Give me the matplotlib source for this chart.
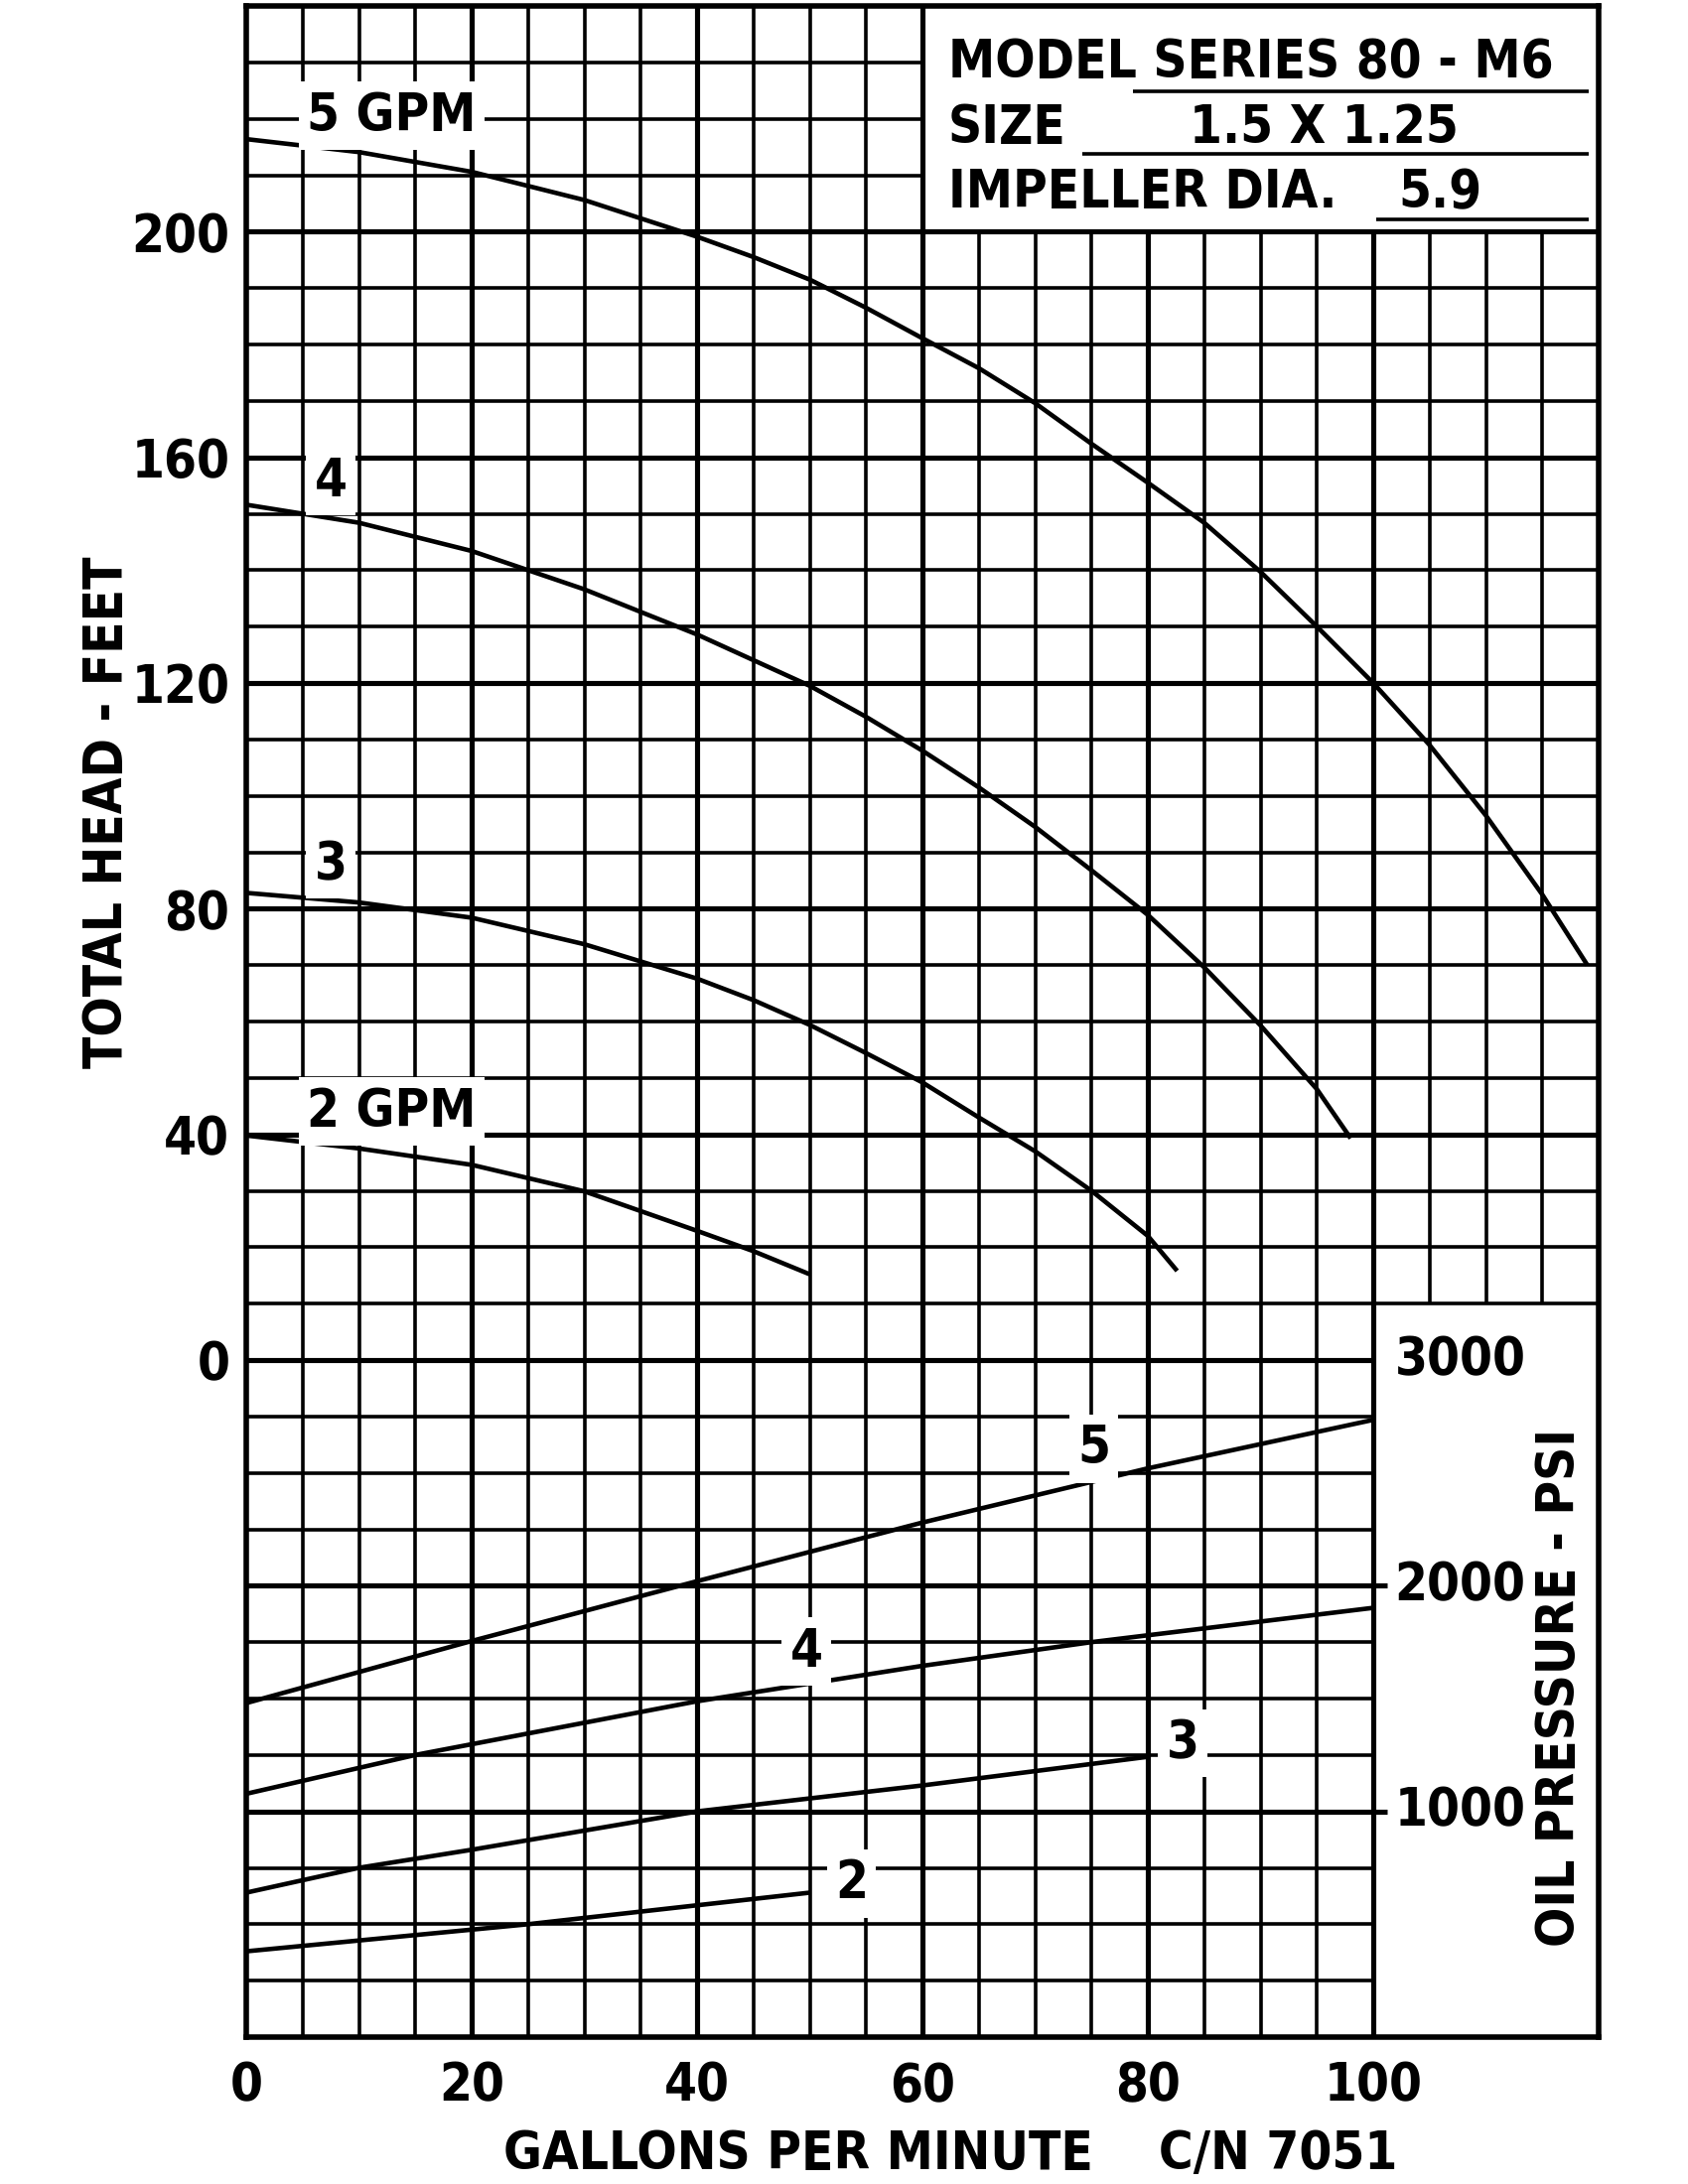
import numpy as np
import matplotlib
matplotlib.use("Agg")
import matplotlib.pyplot as plt
from matplotlib import font_manager

# condensed bold face like the printed chart
names = {f.name for f in font_manager.fontManager.ttflist}
narrow = [n for n in ['Liberation Sans Narrow', 'Arial Narrow'] if n in names]
plt.rcParams['font.family'] = narrow + ['DejaVu Sans']
plt.rcParams['font.stretch'] = 'condensed'
plt.rcParams['font.weight'] = 'bold'

# head curves (gpm vs total head, feet)
gpm_5 = [0, 10, 20, 30, 40, 45, 50, 55, 60, 65, 70, 75, 80, 85, 90, 95, 100, 105, 110, 115, 119]
head_5 = [216.4, 214.1, 210.6, 205.6, 199.1, 195.5, 191.5, 186.5, 181.1, 175.8, 169.6, 162.4,
          155.5, 148.4, 139.7, 130, 120, 109, 96.5, 82.5, 70]
gpm_4 = [0, 10, 20, 30, 40, 50, 55, 60, 65, 70, 75, 80, 85, 90, 95, 98]
head_4 = [151.6, 148.4, 143.4, 136.6, 128.6, 119.5, 114, 108, 101.5, 94.5, 86.8, 78.9, 69.6, 59.3, 48, 39.3]
gpm_3 = [0, 10, 20, 30, 40, 45, 50, 55, 60, 65, 70, 75, 80, 82.6]
head_3 = [82.8, 81.1, 78.4, 73.7, 67.6, 63.8, 59.4, 54.4, 49.2, 43, 37, 30, 22, 15.8]
gpm_2 = [0, 10, 20, 30, 40, 45, 50]
head_2 = [39.8, 37.5, 34.6, 29.9, 22.9, 19.3, 15.2]

# oil pressure lines (gpm vs psi)
pgpm_5 = [0, 20, 40, 60, 80, 100]
psi_5 = [1480, 1755, 2020, 2280, 2520, 2735]
pgpm_4 = [0, 15, 40, 60, 75, 100]
psi_4 = [1078, 1250, 1488, 1645, 1750, 1902]
pgpm_3 = [0, 10, 20, 40, 60, 80]
psi_3 = [640, 750, 830, 1000, 1115, 1242]
pgpm_2 = [0, 25, 50]
psi_2 = [380, 500, 640]

x_ticks = [0, 20, 40, 60, 80, 100]
head_ticks = [0, 40, 80, 120, 160, 200]
psi_ticks = [1000, 2000, 3000]

FS = 38
thin, thick, curve_w = 2.6, 3.7, 3.3

fig = plt.figure(figsize=(17, 22), dpi=100)
ax = fig.add_axes([248/1700, 1 - 2052/2200, (1610-248)/1700, (2052-6)/2200])
ax.set_xlim(0, 120)
ax.set_ylim(-120, 240)

# grid, with the two white boxes left open
for x in np.arange(5, 120, 5):
    lw = thick if x % 20 == 0 else thin
    if x <= 60:
        lo, hi = -120, 240
    elif x <= 100:
        lo, hi = -120, 200
    else:
        lo, hi = 10, 200
    ax.vlines(x, lo, hi, colors='black', lw=lw, zorder=1)
for y in np.arange(-110, 240, 10):
    lw = thick if y % 40 == 0 else thin
    if y > 200:
        lo, hi = 0, 60
    elif y >= 10:
        lo, hi = 0, 120
    else:
        lo, hi = 0, 100
    ax.hlines(y, lo, hi, colors='black', lw=lw, zorder=1)
for p in psi_ticks[:2]:
    ax.hlines(p / 25 - 120, 100, 101.2, colors='black', lw=thick, zorder=1)

for g, h in [(gpm_5, head_5), (gpm_4, head_4), (gpm_3, head_3), (gpm_2, head_2)]:
    ax.plot(g, h, color='black', lw=curve_w, zorder=2, solid_capstyle='butt')

box = dict(facecolor='white', edgecolor='none', pad=6)
ax.text(12.9, 220.5, '5 GPM', fontsize=FS, ha='center', va='center', bbox=box, zorder=3)
ax.text(7.5, 155.8, '4', fontsize=FS, ha='center', va='center', bbox=box, zorder=3)
ax.text(7.5, 87.8, '3', fontsize=FS, ha='center', va='center', bbox=box, zorder=3)
ax.text(12.9, 44.0, '2 GPM', fontsize=FS, ha='center', va='center', bbox=box, zorder=3)

# pressure scale on a twin axis: 0 psi at bottom, 1000 psi per 40 ft
ax2 = ax.twinx()
ax2.set_ylim(0, 9000)
ax2.set_yticks([])
for g, p in [(pgpm_5, psi_5), (pgpm_4, psi_4), (pgpm_3, psi_3), (pgpm_2, psi_2)]:
    ax2.plot(g, p, color='black', lw=curve_w, zorder=2, solid_capstyle='butt')
ax2.text(75.2, 2607, '5', fontsize=FS, ha='center', va='center', bbox=box, zorder=3)
ax2.text(49.7, 1707, '4', fontsize=FS, ha='center', va='center', bbox=box, zorder=3)
ax2.text(83.1, 1302, '3', fontsize=FS, ha='center', va='center', bbox=box, zorder=3)
ax2.text(53.7, 680, '2', fontsize=FS, ha='center', va='center', bbox=box, zorder=3)
for p in psi_ticks:
    ax2.text(101.9, p, str(p), fontsize=FS, ha='left', va='center')
ax2.text(116.6, 1550, 'OIL PRESSURE - PSI', fontsize=FS, rotation=90, ha='center', va='center')

# model box
ax.text(62.3, 229.9, 'MODEL SERIES 80 - M6', fontsize=FS, ha='left', va='center')
ax.hlines(224.8, 78.7, 119.1, colors='black', lw=thin)
ax.text(62.3, 218.4, 'SIZE', fontsize=FS, ha='left', va='center')
ax.text(95.6, 218.4, '1.5 X 1.25', fontsize=FS, ha='center', va='center')
ax.hlines(213.7, 74.2, 119.1, colors='black', lw=thin)
ax.text(62.3, 206.9, 'IMPELLER DIA.', fontsize=FS, ha='left', va='center')
ax.text(105.9, 206.9, '5.9', fontsize=FS, ha='center', va='center')
ax.hlines(202.1, 100.3, 119.1, colors='black', lw=thin)

for s in ax.spines.values():
    s.set_linewidth(4.0)
for s in ax2.spines.values():
    s.set_visible(False)

ax.set_xticks(x_ticks)
ax.set_xticklabels([str(v) for v in x_ticks], fontsize=FS)
ax.set_yticks(head_ticks)
ax.set_yticklabels([str(v) for v in head_ticks], fontsize=FS)
ax.tick_params(axis='x', length=0, pad=17)
ax.tick_params(axis='y', length=0, pad=12)

ax.text(-12.3, 97, 'TOTAL HEAD - FEET', fontsize=FS, rotation=90, ha='center', va='center')
ax.text(62.5, -140.8, 'GALLONS PER MINUTE    C/N 7051', fontsize=FS, ha='center', va='center')

fig.savefig('out.png', dpi=100)
